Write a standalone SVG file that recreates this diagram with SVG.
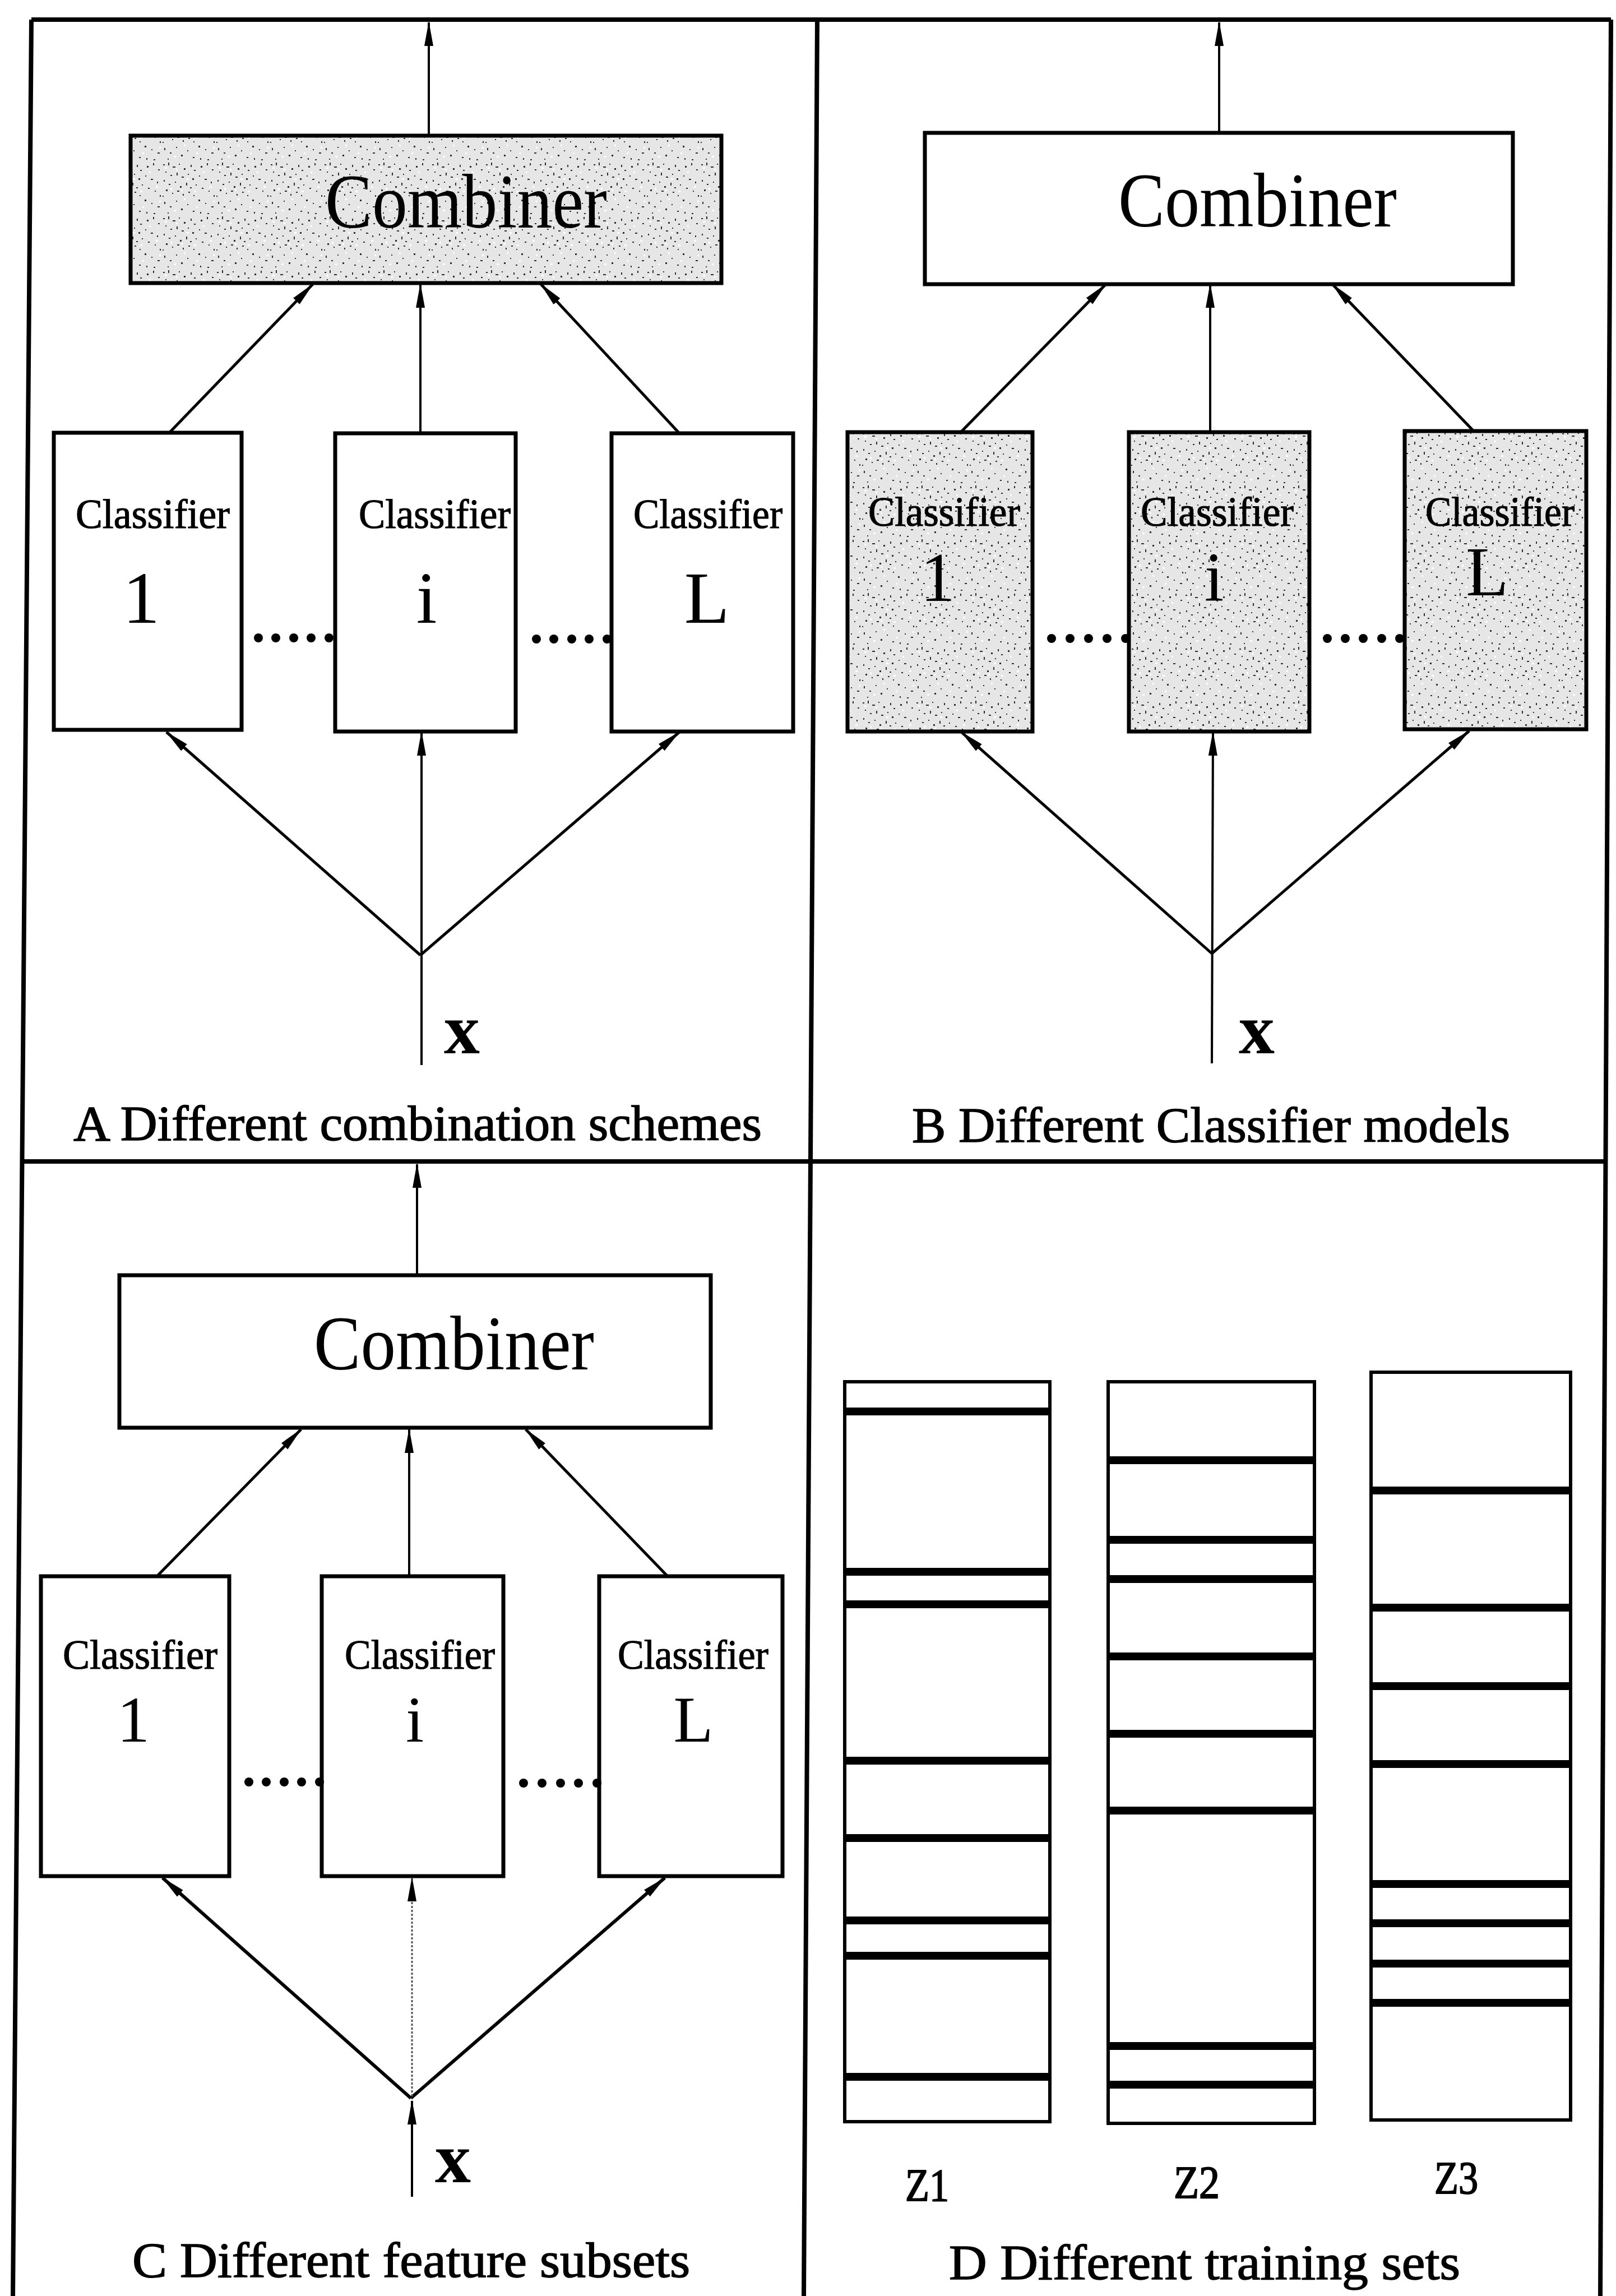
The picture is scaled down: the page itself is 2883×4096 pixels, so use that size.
<svg xmlns="http://www.w3.org/2000/svg" width="2883" height="4096" viewBox="0 0 2883 4096">
<style>
.frame{stroke:#000;stroke-width:8;fill:none}
.box{stroke:#000;stroke-width:7;fill:#fff}
.shade{stroke:#000;stroke-width:7;fill:url(#stip)}
.arr{stroke:#000;stroke-width:5;fill:none;marker-end:url(#ah)}
.thin{stroke-width:4}
.dotted{stroke:#555;stroke-width:3;stroke-dasharray:4 3;fill:none;marker-end:url(#ah)}
.bar{stroke:#000;stroke-width:14}
.zr{stroke:#000;stroke-width:6;fill:#fff}
.comb{font-family:"Liberation Serif","Times New Roman",serif;font-size:138px;fill:#000}
.cls{font-family:"Liberation Serif","Times New Roman",serif;font-size:74px;fill:#000;stroke:#000;stroke-width:1.2}
.num{font-family:"Liberation Serif","Times New Roman",serif;fill:#000;text-anchor:middle}
.xv{font-family:"Liberation Serif","Times New Roman",serif;font-weight:bold;font-size:128px;fill:#000}
.cap{font-family:"Liberation Serif","Times New Roman",serif;font-size:88px;fill:#000;stroke:#000;stroke-width:1.5}
.zl{font-family:"Liberation Serif","Times New Roman",serif;font-size:82px;fill:#000;stroke:#000;stroke-width:2}
.dot{fill:#000}
</style>
<defs>
<marker id="ah" markerUnits="userSpaceOnUse" markerWidth="44" markerHeight="20" refX="42" refY="10" orient="auto" viewBox="0 0 44 20">
<path d="M0,2 L44,10 L0,18 Z" fill="#000"/>
</marker>
<pattern id="stip" width="96" height="96" patternUnits="userSpaceOnUse">
<rect width="96" height="96" fill="#e6e6e6"/>
<g fill="#2e2e2e">
<rect x="3" y="5" width="3" height="2"/><rect x="12" y="2" width="2" height="5"/><rect x="20" y="9" width="5" height="2"/>
<rect x="31" y="4" width="2" height="2"/><rect x="40" y="12" width="3" height="3"/><rect x="52" y="6" width="2" height="4"/>
<rect x="58" y="15" width="3" height="2"/><rect x="7" y="18" width="2" height="2"/><rect x="16" y="24" width="3" height="2"/>
<rect x="27" y="20" width="2" height="5"/><rect x="36" y="27" width="4" height="2"/><rect x="47" y="22" width="2" height="2"/>
<rect x="55" y="30" width="3" height="3"/><rect x="4" y="33" width="2" height="3"/><rect x="13" y="40" width="3" height="2"/>
<rect x="24" y="36" width="2" height="2"/><rect x="33" y="44" width="3" height="3"/><rect x="44" y="38" width="2" height="5"/>
<rect x="51" y="46" width="3" height="2"/><rect x="61" y="41" width="2" height="2"/><rect x="8" y="50" width="3" height="3"/>
<rect x="19" y="56" width="2" height="2"/><rect x="28" y="52" width="4" height="2"/><rect x="38" y="58" width="2" height="3"/>
<rect x="48" y="54" width="3" height="2"/><rect x="57" y="60" width="2" height="2"/><rect x="2" y="61" width="2" height="2"/>
<rect x="70" y="8" width="3" height="3"/><rect x="81" y="3" width="2" height="4"/><rect x="90" y="14" width="3" height="2"/>
<rect x="67" y="25" width="2" height="2"/><rect x="77" y="31" width="4" height="2"/><rect x="88" y="36" width="2" height="3"/>
<rect x="72" y="47" width="3" height="2"/><rect x="84" y="52" width="2" height="2"/><rect x="93" y="60" width="2" height="3"/>
<rect x="66" y="68" width="3" height="3"/><rect x="78" y="74" width="2" height="2"/><rect x="89" y="80" width="4" height="2"/>
<rect x="5" y="72" width="2" height="4"/><rect x="15" y="80" width="3" height="2"/><rect x="26" y="70" width="2" height="2"/>
<rect x="35" y="84" width="3" height="3"/><rect x="46" y="76" width="2" height="2"/><rect x="56" y="88" width="3" height="2"/>
<rect x="11" y="91" width="2" height="2"/><rect x="69" y="90" width="2" height="3"/><rect x="82" y="92" width="3" height="2"/>
</g>
<g fill="#ffffff">
<rect x="6" y="10" width="4" height="3"/><rect x="26" y="13" width="3" height="3"/><rect x="45" y="30" width="4" height="3"/>
<rect x="16" y="47" width="3" height="4"/><rect x="35" y="50" width="3" height="3"/><rect x="58" y="52" width="4" height="3"/>
<rect x="74" y="18" width="3" height="3"/><rect x="86" y="44" width="4" height="3"/><rect x="62" y="80" width="3" height="3"/>
<rect x="22" y="86" width="4" height="3"/><rect x="40" y="66" width="3" height="3"/><rect x="92" y="70" width="3" height="3"/>
</g>
</pattern>
</defs>

<g id="frame">
<line class="frame" x1="56" y1="35" x2="2874" y2="35"/>
<line class="frame" x1="56" y1="35" x2="23" y2="4096"/>
<line class="frame" x1="2874" y1="35" x2="2855" y2="4096"/>
<line class="frame" x1="1458" y1="35" x2="1434" y2="4096"/>
<line class="frame" x1="40" y1="2072" x2="2865" y2="2072"/>
</g>

<g id="connectors">
<line class="arr thin" x1="765" y1="242" x2="765" y2="40"/>
<line class="arr" x1="303" y1="771" x2="558" y2="507"/>
<line class="arr thin" x1="750" y1="773" x2="750" y2="507"/>
<line class="arr" x1="1212" y1="773" x2="965" y2="507"/>
<line class="arr" x1="750" y1="1704" x2="297" y2="1306"/>
<line class="arr" x1="750" y1="1704" x2="1212" y2="1306"/>
<line class="arr thin" x1="752" y1="1900" x2="752" y2="1306"/>
<line class="arr thin" x1="2175" y1="237" x2="2175" y2="40"/>
<line class="arr" x1="1715" y1="770" x2="1973" y2="507"/>
<line class="arr thin" x1="2159" y1="771" x2="2159" y2="507"/>
<line class="arr" x1="2630" y1="770" x2="2377" y2="507"/>
<line class="arr" x1="2162" y1="1701" x2="1715" y2="1306"/>
<line class="arr" x1="2162" y1="1701" x2="2621" y2="1304"/>
<line class="arr thin" x1="2162" y1="1897" x2="2164" y2="1306"/>
<line class="arr thin" x1="744" y1="2275" x2="744" y2="2077"/>
<line class="arr" x1="280" y1="2812" x2="537" y2="2550"/>
<line class="arr thin" x1="730" y1="2812" x2="730" y2="2550"/>
<line class="arr" x1="1191" y1="2812" x2="938" y2="2550"/>
<line class="arr" x1="733" y1="3743" x2="290" y2="3350" style="stroke-width:6"/>
<line class="arr" x1="733" y1="3743" x2="1186" y2="3350" style="stroke-width:6"/>
<line class="dotted" x1="735" y1="3740" x2="735" y2="3350"/>
<line class="arr thin" x1="735" y1="3919" x2="735" y2="3748"/>
</g>

<g id="A-combiner">
<rect class="shade" x="233" y="242" width="1054" height="263"/>
<text class="comb" x="580" y="406" textLength="503" lengthAdjust="spacingAndGlyphs">Combiner</text>
</g>
<g id="A-classifier-1">
<rect class="box" x="96" y="772" width="335" height="530"/>
<text class="cls" x="135" y="942" textLength="275" lengthAdjust="spacingAndGlyphs">Classifier</text>
<text class="num" x="252" y="1111" font-size="132">1</text>
</g>
<g id="A-classifier-i">
<rect class="box" x="598" y="773" width="322" height="532"/>
<text class="cls" x="640" y="942" textLength="271" lengthAdjust="spacingAndGlyphs">Classifier</text>
<text class="num" x="761" y="1111" font-size="132">i</text>
</g>
<g id="A-classifier-L">
<rect class="box" x="1091" y="773" width="324" height="532"/>
<text class="cls" x="1130" y="942" textLength="266" lengthAdjust="spacingAndGlyphs">Classifier</text>
<text class="num" x="1261" y="1111" font-size="132">L</text>
</g>
<g id="A-dots">
<circle class="dot" cx="461" cy="1138" r="8"/><circle class="dot" cx="492" cy="1138" r="8"/><circle class="dot" cx="524" cy="1138" r="8"/><circle class="dot" cx="555" cy="1138" r="8"/><circle class="dot" cx="587" cy="1138" r="8"/>
<circle class="dot" cx="957" cy="1140" r="8"/><circle class="dot" cx="988" cy="1140" r="8"/><circle class="dot" cx="1020" cy="1140" r="8"/><circle class="dot" cx="1051" cy="1140" r="8"/><circle class="dot" cx="1083" cy="1140" r="8"/>
</g>
<g id="A-input"><text class="xv" x="792" y="1879">x</text></g>
<g id="A-caption"><text class="cap" x="131" y="2034" textLength="1228" lengthAdjust="spacingAndGlyphs">A Different combination schemes</text></g>

<g id="B-combiner">
<rect class="box" x="1650" y="237" width="1049" height="270"/>
<text class="comb" x="1995" y="404" textLength="497" lengthAdjust="spacingAndGlyphs">Combiner</text>
</g>
<g id="B-classifier-1">
<rect class="shade" x="1512" y="771" width="330" height="534"/>
<text class="cls" x="1549" y="938" textLength="271" lengthAdjust="spacingAndGlyphs">Classifier</text>
<text class="num" x="1673" y="1072" font-size="124">1</text>
</g>
<g id="B-classifier-i">
<rect class="shade" x="2014" y="771" width="322" height="534"/>
<text class="cls" x="2035" y="938" textLength="273" lengthAdjust="spacingAndGlyphs">Classifier</text>
<text class="num" x="2166" y="1072" font-size="124">i</text>
</g>
<g id="B-classifier-L">
<rect class="shade" x="2506" y="769" width="324" height="532"/>
<text class="cls" x="2543" y="938" textLength="266" lengthAdjust="spacingAndGlyphs">Classifier</text>
<text class="num" x="2653" y="1062" font-size="124">L</text>
</g>
<g id="B-dots">
<circle class="dot" cx="1876" cy="1139" r="8"/><circle class="dot" cx="1909" cy="1139" r="8"/><circle class="dot" cx="1942" cy="1139" r="8"/><circle class="dot" cx="1975" cy="1139" r="8"/><circle class="dot" cx="2008" cy="1139" r="8"/>
<circle class="dot" cx="2368" cy="1139" r="8"/><circle class="dot" cx="2400" cy="1139" r="8"/><circle class="dot" cx="2432" cy="1139" r="8"/><circle class="dot" cx="2465" cy="1139" r="8"/><circle class="dot" cx="2497" cy="1139" r="8"/>
</g>
<g id="B-input"><text class="xv" x="2210" y="1879">x</text></g>
<g id="B-caption"><text class="cap" x="1627" y="2037" textLength="1067" lengthAdjust="spacingAndGlyphs">B Different Classifier models</text></g>

<g id="C-combiner">
<rect class="box" x="213" y="2275" width="1055" height="272"/>
<text class="comb" x="560" y="2443" textLength="500" lengthAdjust="spacingAndGlyphs">Combiner</text>
</g>
<g id="C-classifier-1">
<rect class="box" x="73" y="2812" width="336" height="535"/>
<text class="cls" x="112" y="2977" textLength="276" lengthAdjust="spacingAndGlyphs">Classifier</text>
<text class="num" x="238" y="3107" font-size="116">1</text>
</g>
<g id="C-classifier-i">
<rect class="box" x="574" y="2812" width="324" height="535"/>
<text class="cls" x="615" y="2977" textLength="268" lengthAdjust="spacingAndGlyphs">Classifier</text>
<text class="num" x="740" y="3107" font-size="116">i</text>
</g>
<g id="C-classifier-L">
<rect class="box" x="1069" y="2812" width="327" height="535"/>
<text class="cls" x="1102" y="2977" textLength="269" lengthAdjust="spacingAndGlyphs">Classifier</text>
<text class="num" x="1237" y="3107" font-size="116">L</text>
</g>
<g id="C-dots">
<circle class="dot" cx="444" cy="3179" r="8"/><circle class="dot" cx="475" cy="3179" r="8"/><circle class="dot" cx="507" cy="3179" r="8"/><circle class="dot" cx="538" cy="3179" r="8"/><circle class="dot" cx="570" cy="3179" r="8"/>
<circle class="dot" cx="934" cy="3181" r="8"/><circle class="dot" cx="967" cy="3181" r="8"/><circle class="dot" cx="1000" cy="3181" r="8"/><circle class="dot" cx="1032" cy="3181" r="8"/><circle class="dot" cx="1065" cy="3181" r="8"/>
</g>
<g id="C-input"><text class="xv" x="776" y="3893">x</text></g>
<g id="C-caption"><text class="cap" x="236" y="4062" textLength="995" lengthAdjust="spacingAndGlyphs">C Different feature subsets</text></g>

<g id="D-Z1">
<rect class="zr" x="1507" y="2465" width="366" height="1320"/>
<line class="bar" x1="1507" y1="2518" x2="1873" y2="2518"/>
<line class="bar" x1="1507" y1="2804" x2="1873" y2="2804"/>
<line class="bar" x1="1507" y1="2862" x2="1873" y2="2862"/>
<line class="bar" x1="1507" y1="3141" x2="1873" y2="3141"/>
<line class="bar" x1="1507" y1="3279" x2="1873" y2="3279"/>
<line class="bar" x1="1507" y1="3426" x2="1873" y2="3426"/>
<line class="bar" x1="1507" y1="3489" x2="1873" y2="3489"/>
<line class="bar" x1="1507" y1="3705" x2="1873" y2="3705"/>
<text class="zl" x="1615" y="3926" textLength="78" lengthAdjust="spacingAndGlyphs">Z1</text>
</g>
<g id="D-Z2">
<rect class="zr" x="1977" y="2465" width="368" height="1323"/>
<line class="bar" x1="1977" y1="2605" x2="2345" y2="2605"/>
<line class="bar" x1="1977" y1="2747" x2="2345" y2="2747"/>
<line class="bar" x1="1977" y1="2817" x2="2345" y2="2817"/>
<line class="bar" x1="1977" y1="2955" x2="2345" y2="2955"/>
<line class="bar" x1="1977" y1="3093" x2="2345" y2="3093"/>
<line class="bar" x1="1977" y1="3230" x2="2345" y2="3230"/>
<line class="bar" x1="1977" y1="3650" x2="2345" y2="3650"/>
<line class="bar" x1="1977" y1="3719" x2="2345" y2="3719"/>
<text class="zl" x="2094" y="3921" textLength="82" lengthAdjust="spacingAndGlyphs">Z2</text>
</g>
<g id="D-Z3">
<rect class="zr" x="2446" y="2448" width="356" height="1334"/>
<line class="bar" x1="2446" y1="2659" x2="2802" y2="2659"/>
<line class="bar" x1="2446" y1="2868" x2="2802" y2="2868"/>
<line class="bar" x1="2446" y1="3008" x2="2802" y2="3008"/>
<line class="bar" x1="2446" y1="3147" x2="2802" y2="3147"/>
<line class="bar" x1="2446" y1="3361" x2="2802" y2="3361"/>
<line class="bar" x1="2446" y1="3431" x2="2802" y2="3431"/>
<line class="bar" x1="2446" y1="3503" x2="2802" y2="3503"/>
<line class="bar" x1="2446" y1="3573" x2="2802" y2="3573"/>
<text class="zl" x="2559" y="3913" textLength="78" lengthAdjust="spacingAndGlyphs">Z3</text>
</g>
<g id="D-caption"><text class="cap" x="1693" y="4066" textLength="912" lengthAdjust="spacingAndGlyphs">D Different training sets</text></g>
</svg>
